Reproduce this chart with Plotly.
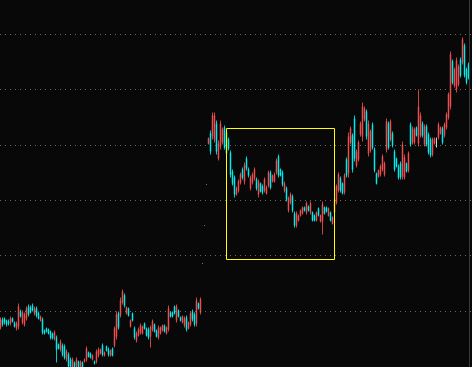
import plotly.graph_objects as go

# ---- daily OHLC prices ----
opens = [
    5.39, 5.47, 5.48, 5.46, 5.45, 5.43, 5.48, 5.44, 5.38, 5.40,
    5.55, 5.44, 5.42, 5.48, 5.60, 5.59, 5.61, 5.53, 5.58, 5.53,
    5.46, 5.47, 5.36, 5.38, 5.37, 5.35, 5.33, 5.28, 5.29, 5.22,
    5.17, 5.21, 5.20, 5.07, 5.12,
    5.07, 4.99, 5.04, 5.00, 5.05, 5.00, 5.04, 5.05, 5.07, 5.14,
    5.13, 5.07, 5.05, 5.05, 5.11, 5.13, 5.21, 5.11, 5.20, 5.17,
    5.11, 5.18, 5.21, 5.30, 5.53, 5.51, 5.64, 5.71, 5.53, 5.58,
    5.40, 5.53, 5.38, 5.26, 5.31, 5.34, 5.33, 5.43, 5.38, 5.37,
    5.30, 5.37, 5.42, 5.36, 5.29, 5.33, 5.36, 5.41, 5.33, 5.37,
    5.54, 5.54, 5.60, 5.46, 5.56, 5.49, 5.44, 5.41, 5.49, 5.38,
    5.42, 5.55, 5.52, 5.43, 5.63, 5.54,
    6.03, 6.41, 6.82,
    7.23, 7.33, 7.30, 7.27, 7.43, 7.08, 7.20, 7.24, 7.39, 7.34,
    7.27, 7.14, 6.95, 6.89, 6.72, 6.76, 6.84, 6.97, 6.85, 7.08,
    6.97, 6.78, 6.84, 6.88, 6.87, 6.72, 6.83, 6.80, 6.76, 6.73,
    6.81, 6.94, 6.85,
    6.85, 6.94, 7.10, 6.97, 6.94, 6.76, 6.78, 6.56, 6.64, 6.70,
    6.53, 6.41, 6.46, 6.51, 6.53, 6.59, 6.54, 6.60, 6.54, 6.54,
    6.51, 6.46, 6.58, 6.45, 6.45, 6.59, 6.59, 6.51, 6.54, 6.43,
    6.54, 6.64, 6.76, 6.88, 6.83, 6.74, 7.07, 6.93, 7.24, 7.31,
    7.48, 7.01, 7.07, 7.32, 7.30, 7.47, 7.55, 7.13, 7.16, 7.42,
    7.17, 6.93, 6.90, 6.92, 6.97, 6.92, 7.17, 7.43, 7.27, 7.33,
    7.15, 7.08, 7.00,
    7.03, 6.90, 6.89, 7.03, 6.96, 7.42, 7.24, 7.24, 7.39, 7.23,
    7.31, 7.43, 7.22, 7.40, 7.32, 7.27, 7.12, 7.23, 7.24, 7.29,
    7.33, 7.38, 7.31, 7.39, 7.49, 7.60, 8.05, 7.81, 7.77, 7.82,
    8.07, 8.04, 8.21, 7.97, 8.02,
]
highs = [
    5.49, 5.49, 5.49, 5.47, 5.47, 5.50, 5.49, 5.45, 5.45, 5.63,
    5.57, 5.56, 5.54, 5.60, 5.62, 5.61, 5.63, 5.60, 5.60, 5.55,
    5.51, 5.49, 5.37, 5.39, 5.38, 5.36, 5.34, 5.36, 5.31, 5.23,
    5.27, 5.23, 5.22, 5.17, 5.14,
    5.09, 5.09, 5.05, 5.09, 5.06, 5.06, 5.05, 5.08, 5.20, 5.15,
    5.14, 5.12, 5.06, 5.17, 5.19, 5.18, 5.23, 5.15, 5.21, 5.19,
    5.17, 5.19, 5.40, 5.55, 5.55, 5.69, 5.77, 5.73, 5.60, 5.59,
    5.47, 5.54, 5.40, 5.35, 5.39, 5.43, 5.41, 5.44, 5.39, 5.39,
    5.41, 5.47, 5.43, 5.37, 5.41, 5.40, 5.42, 5.42, 5.40, 5.61,
    5.55, 5.55, 5.61, 5.62, 5.57, 5.50, 5.51, 5.50, 5.51, 5.45,
    5.55, 5.57, 5.54, 5.69, 5.64, 5.69,
    6.03, 6.41, 6.82,
    7.29, 7.36, 7.54, 7.54, 7.46, 7.26, 7.46, 7.39, 7.41, 7.36,
    7.29, 7.16, 6.97, 6.91, 6.80, 6.87, 6.94, 6.99, 7.04, 7.10,
    6.99, 6.91, 6.94, 6.99, 6.89, 6.87, 6.84, 6.82, 6.89, 6.81,
    6.96, 6.96, 6.92,
    6.94, 7.08, 7.12, 6.98, 6.96, 6.85, 6.80, 6.70, 6.74, 6.72,
    6.55, 6.55, 6.52, 6.57, 6.60, 6.60, 6.65, 6.61, 6.65, 6.55,
    6.52, 6.55, 6.59, 6.52, 6.65, 6.60, 6.60, 6.59, 6.55, 6.50,
    6.69, 6.82, 6.94, 6.90, 6.84, 6.93, 7.09, 7.34, 7.40, 7.33,
    7.51, 7.17, 7.26, 7.45, 7.64, 7.60, 7.57, 7.46, 7.37, 7.44,
    7.19, 6.94, 6.97, 7.02, 7.12, 7.05, 7.48, 7.45, 7.47, 7.35,
    7.17, 7.09, 7.02,
    7.05, 7.25, 7.12, 7.04, 7.15, 7.44, 7.40, 7.39, 7.40, 7.77,
    7.54, 7.45, 7.42, 7.42, 7.34, 7.29, 7.29, 7.29, 7.29, 7.44,
    7.40, 7.40, 7.44, 7.54, 7.74, 8.15, 8.07, 7.99, 8.09, 8.02,
    8.09, 8.29, 8.23, 7.99, 8.04,
]
lows = [
    5.37, 5.40, 5.42, 5.40, 5.41, 5.41, 5.44, 5.39, 5.36, 5.37,
    5.49, 5.42, 5.40, 5.46, 5.50, 5.53, 5.55, 5.51, 5.49, 5.47,
    5.45, 5.32, 5.32, 5.34, 5.32, 5.27, 5.27, 5.26, 5.04, 5.17,
    5.15, 5.10, 5.07, 5.05, 4.97,
    4.97, 4.96, 4.96, 4.97, 4.97, 4.98, 4.97, 5.04, 5.05, 5.09,
    5.08, 5.06, 5.02, 5.03, 5.09, 5.12, 5.10, 5.10, 5.15, 5.10,
    5.10, 5.10, 5.19, 5.27, 5.37, 5.49, 5.62, 5.59, 5.52, 5.50,
    5.39, 5.45, 5.27, 5.24, 5.30, 5.32, 5.32, 5.37, 5.30, 5.27,
    5.19, 5.35, 5.34, 5.29, 5.27, 5.32, 5.35, 5.34, 5.32, 5.35,
    5.49, 5.49, 5.52, 5.44, 5.49, 5.45, 5.43, 5.39, 5.35, 5.37,
    5.40, 5.45, 5.40, 5.40, 5.57, 5.52,
    6.03, 6.41, 6.82,
    7.22, 7.12, 7.27, 7.24, 7.12, 7.06, 7.17, 7.22, 7.17, 7.11,
    7.16, 6.89, 6.81, 6.69, 6.71, 6.74, 6.82, 6.87, 6.82, 6.96,
    6.89, 6.76, 6.82, 6.86, 6.76, 6.69, 6.74, 6.72, 6.74, 6.72,
    6.79, 6.77, 6.84,
    6.84, 6.92, 6.89, 6.90, 6.80, 6.74, 6.65, 6.54, 6.62, 6.54,
    6.39, 6.39, 6.45, 6.50, 6.52, 6.55, 6.52, 6.55, 6.52, 6.45,
    6.45, 6.45, 6.50, 6.44, 6.32, 6.52, 6.54, 6.50, 6.45, 6.42,
    6.52, 6.62, 6.74, 6.74, 6.72, 6.72, 6.89, 6.89, 7.22, 6.94,
    7.05, 6.99, 7.05, 7.30, 7.25, 7.45, 7.27, 7.10, 7.14, 7.17,
    6.94, 6.82, 6.89, 6.90, 6.95, 6.90, 7.14, 7.17, 7.25, 7.19,
    6.95, 6.99, 6.87,
    6.87, 6.87, 6.87, 6.94, 6.94, 7.20, 7.22, 7.22, 7.30, 7.20,
    7.29, 7.29, 7.20, 7.20, 7.12, 7.09, 7.10, 7.22, 7.19, 7.27,
    7.32, 7.22, 7.29, 7.37, 7.47, 7.57, 7.82, 7.79, 7.74, 7.80,
    7.89, 8.02, 7.89, 7.82, 7.87,
]
closes = [
    5.47, 5.42, 5.44, 5.42, 5.43, 5.48, 5.45, 5.40, 5.43, 5.60,
    5.50, 5.54, 5.52, 5.58, 5.52, 5.54, 5.56, 5.58, 5.51, 5.48,
    5.50, 5.34, 5.33, 5.35, 5.33, 5.29, 5.28, 5.34, 5.17, 5.18,
    5.25, 5.12, 5.09, 5.15, 5.00,
    5.00, 5.07, 4.99, 5.07, 4.99, 5.05, 4.99, 5.07, 5.18, 5.10,
    5.09, 5.11, 5.03, 5.15, 5.17, 5.17, 5.12, 5.14, 5.16, 5.12,
    5.16, 5.11, 5.38, 5.52, 5.39, 5.66, 5.75, 5.61, 5.59, 5.51,
    5.46, 5.46, 5.29, 5.33, 5.37, 5.41, 5.40, 5.38, 5.31, 5.29,
    5.39, 5.45, 5.35, 5.30, 5.39, 5.39, 5.41, 5.35, 5.39, 5.58,
    5.50, 5.50, 5.53, 5.60, 5.50, 5.46, 5.50, 5.48, 5.37, 5.44,
    5.53, 5.47, 5.42, 5.66, 5.58, 5.67,
    6.03, 6.41, 6.82,
    7.28, 7.15, 7.51, 7.51, 7.15, 7.23, 7.43, 7.37, 7.19, 7.13,
    7.18, 6.92, 6.83, 6.72, 6.78, 6.85, 6.92, 6.89, 7.01, 6.98,
    6.91, 6.89, 6.92, 6.97, 6.78, 6.85, 6.75, 6.74, 6.87, 6.79,
    6.94, 6.79, 6.91,
    6.92, 7.06, 6.91, 6.91, 6.82, 6.83, 6.67, 6.68, 6.72, 6.56,
    6.41, 6.53, 6.51, 6.56, 6.59, 6.56, 6.63, 6.56, 6.63, 6.46,
    6.46, 6.54, 6.51, 6.51, 6.62, 6.53, 6.55, 6.58, 6.46, 6.49,
    6.67, 6.80, 6.92, 6.76, 6.73, 6.91, 6.91, 7.30, 7.38, 6.97,
    7.08, 7.15, 7.24, 7.43, 7.60, 7.58, 7.30, 7.43, 7.35, 7.19,
    6.96, 6.83, 6.96, 7.00, 7.10, 7.03, 7.45, 7.19, 7.45, 7.21,
    6.97, 7.00, 6.89,
    6.89, 7.22, 7.09, 6.95, 7.13, 7.22, 7.38, 7.37, 7.31, 7.60,
    7.51, 7.31, 7.40, 7.22, 7.14, 7.11, 7.27, 7.28, 7.24, 7.42,
    7.39, 7.24, 7.42, 7.52, 7.72, 8.12, 7.84, 7.97, 8.06, 8.00,
    7.91, 8.27, 7.91, 7.84, 7.89,
]

# highlighted consolidation zone (bar index span, price span)
box_start, box_end = 113.0, 167.0
box_low, box_high = 6.07, 7.38

# evenly divided horizontal grid (stock-terminal style)
grid_base, grid_step = 5.0, 0.5533

RED = "#FF5555"
CYAN = "#00FFFF"
WHITE = "#FFFFFF"
BG = "#080808"

n = len(closes)
assert len(opens) == len(highs) == len(lows) == n
days = list(range(n))

groups = {"up": [], "down": [], "flat_up": [], "flat": []}
for i in days:
    o, c = opens[i], closes[i]
    if c > o:
        groups["up"].append(i)
    elif c < o:
        groups["down"].append(i)
    elif i > 0 and c > closes[i - 1]:
        groups["flat_up"].append(i)
    else:
        groups["flat"].append(i)

colors = {"up": RED, "down": CYAN, "flat_up": RED, "flat": WHITE}

fig = go.Figure()
for name, ids in groups.items():
    if not ids:
        continue
    col = colors[name]
    fig.add_trace(go.Candlestick(
        x=[days[i] for i in ids],
        open=[opens[i] for i in ids],
        high=[highs[i] for i in ids],
        low=[lows[i] for i in ids],
        close=[closes[i] for i in ids],
        increasing=dict(line=dict(color=col, width=0.8), fillcolor=col),
        decreasing=dict(line=dict(color=col, width=0.8), fillcolor=col),
        whiskerwidth=0,
        hoverinfo="skip",
        showlegend=False,
        name=name,
    ))

fig.add_shape(type="rect", xref="x", yref="y",
              x0=box_start, x1=box_end, y0=box_low, y1=box_high,
              line=dict(color="#FFFF00", width=1), fillcolor="rgba(0,0,0,0)")
fig.add_shape(type="line", xref="paper", yref="paper",
              x0=0.9947, x1=0.9947, y0=0, y1=1,
              line=dict(color="#3a3a3a", width=1))

fig.update_layout(
    width=472, height=367, autosize=False,
    margin=dict(l=0, r=0, t=0, b=0, pad=0),
    paper_bgcolor=BG, plot_bgcolor=BG,
    showlegend=False,
    boxgap=0.6,
    xaxis=dict(range=[-0.25, n + 0.75], showgrid=False, zeroline=False,
               showticklabels=False, showline=False, ticks="",
               rangeslider=dict(visible=False), fixedrange=True),
    yaxis=dict(range=[4.995, 8.665], showgrid=True, gridcolor="#6a6a6a",
               griddash="1px,4px", gridwidth=1, tick0=grid_base, dtick=grid_step,
               zeroline=False, showticklabels=False, showline=False, ticks="",
               fixedrange=True),
)

fig.write_html("out.html")
